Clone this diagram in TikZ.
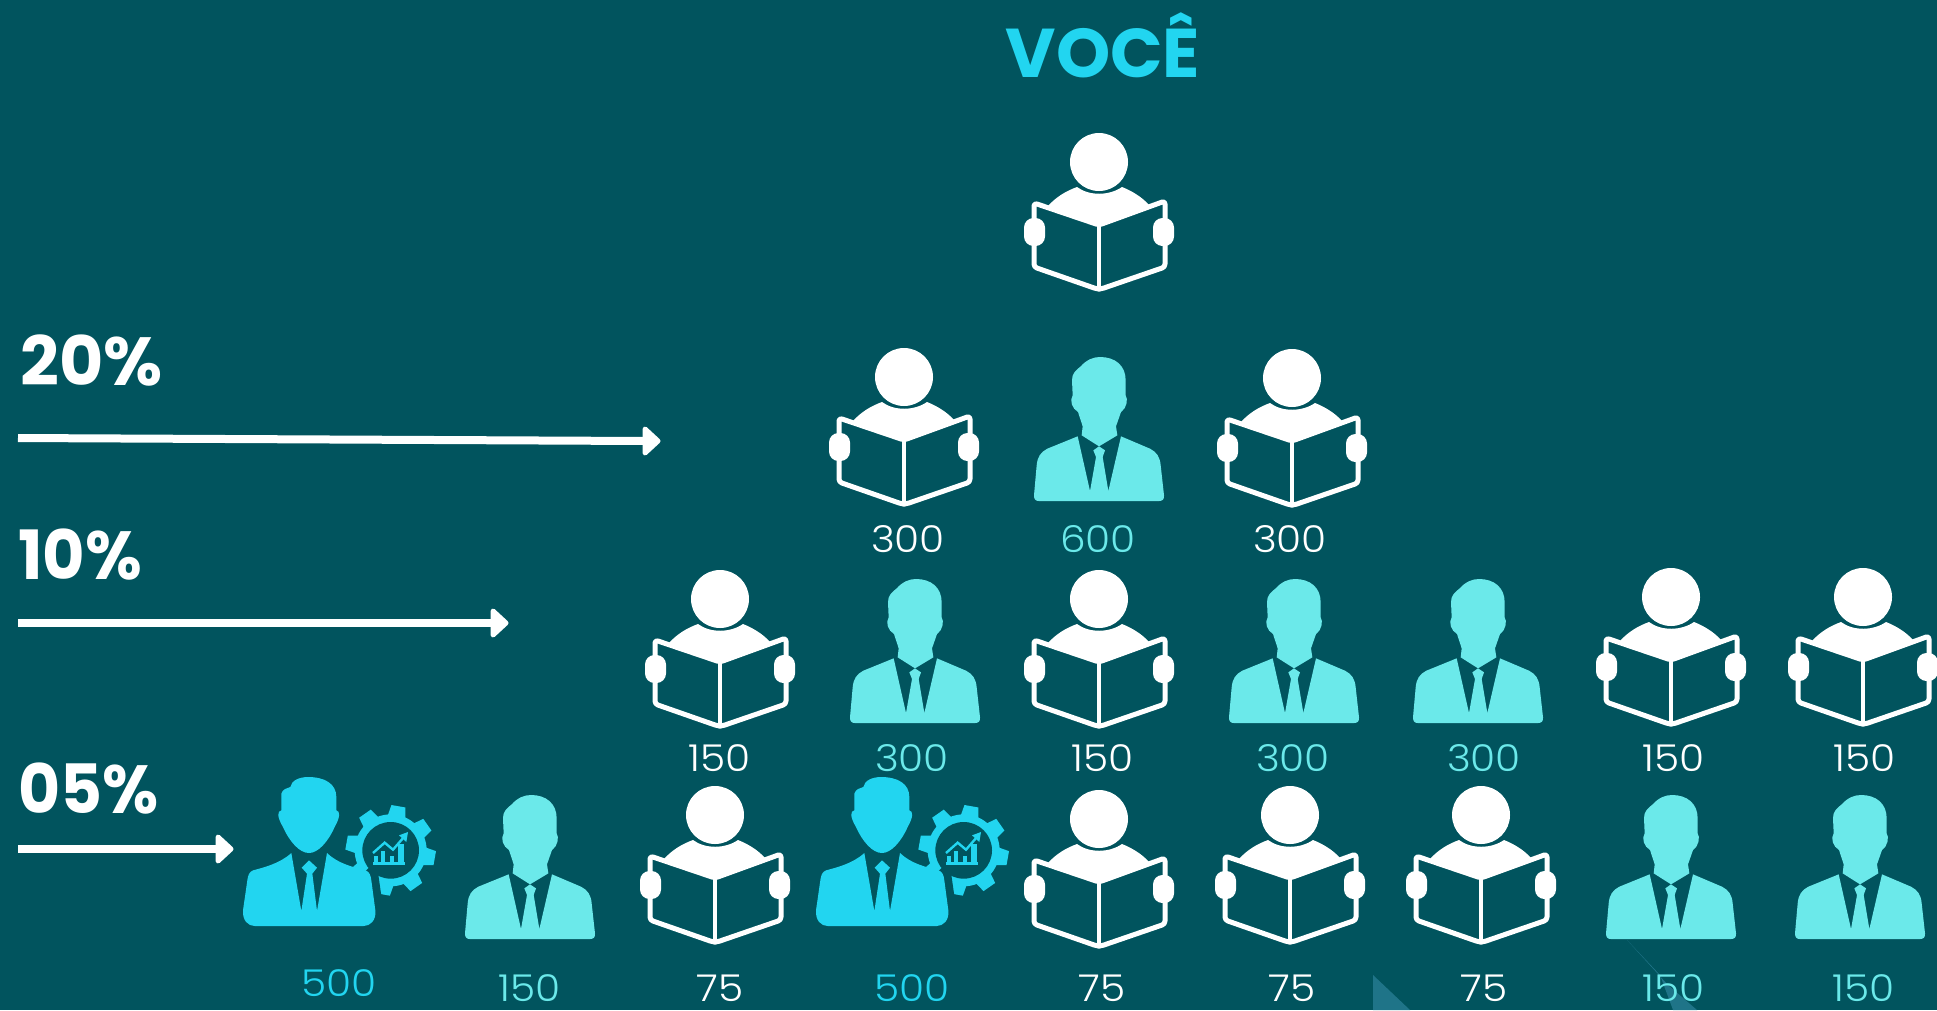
\documentclass[tikz,border=0pt]{standalone}
\usepackage{fontspec}
\setmainfont{Poppins}
\newfontfamily\numfont{Poppins Light}
\usetikzlibrary{arrows.meta}
\definecolor{bgc}{HTML}{01545E}
\definecolor{cyanc}{HTML}{22D5F0}
\definecolor{tealc}{HTML}{6BE9EA}
\definecolor{decoc}{HTML}{1F7488}
\tikzset{
  lab/.style={font=\numfont\fontsize{37}{37}\selectfont,anchor=base,inner sep=0pt,xscale=1.1},
  pct/.style={font=\bfseries\fontsize{68}{68}\selectfont,text=white,anchor=base west,inner sep=0pt},
  flow/.style={draw=white,line width=8pt},
  tip/.style={fill=white,draw=white,line width=5pt,line join=round},
  reader/.pic={
    \fill[white] (0,0) circle (29);
    \fill[white] (-51,44) .. controls (-43,35) and (-33,29) .. (-22,25)
       .. controls (-10,34) and (10,34) .. (23,25)
       .. controls (33,29) and (43,35) .. (50,43) -- (0,62) -- cycle;
    \draw[white,line width=5pt,line join=round,rounded corners=3pt]
       (-65,41) -- (0,63) -- (66,39) -- (66,105) -- (2,127) -- (-2,127) -- (-65,105) -- cycle;
    \draw[white,line width=4.4pt] (0,62) -- (0,127);
    \fill[white,rounded corners=9.5pt] (-75,56) rectangle (-54,84);
    \fill[white,rounded corners=9.5pt] (54,56) rectangle (75,84);
  },
  suit/.pic={
    \begin{scope}[scale=1/3,shift={(-267,-482)}]
    \fill[tealc] (212,78) .. controls (230,58) and (250,50) .. (270,50)
      .. controls (315,50) and (347,75) .. (347,120) -- (347,165)
      .. controls (355,175) and (350,205) .. (333,215)
      -- (318,258) -- (322,285) -- (267,318) -- (215,285) -- (218,258) -- (204,215)
      .. controls (186,205) and (178,180) .. (188,165) -- (186,120)
      .. controls (186,100) and (195,92) .. (212,78) -- cycle;
    \fill[tealc] (203,288) -- (112,325) .. controls (92,335) and (82,350) .. (80,375)
      -- (72,465) .. controls (72,476) and (76,482) .. (86,482) -- (448,482)
      .. controls (458,482) and (463,476) .. (462,465)
      -- (452,375) .. controls (450,350) and (440,335) .. (420,325)
      -- (333,288) -- (295,452) -- (278,350) -- (285,330) -- (267,318) -- (250,330)
      -- (258,350) -- (240,452) -- cycle;
    \end{scope}
  },
  boss/.pic={
    \begin{scope}[scale=1/3,shift={(-268,-497)}]
    \fill[cyanc] (513,270) circle (108);
    \foreach \a in {80,35,-10,-55,-100,-145,170,125}{
      \begin{scope}[shift={(513,270)}]
      \fill[cyanc] ({-\a-15}:104) -- ({-\a-9}:136) -- ({-\a+9}:136) -- ({-\a+15}:104) -- cycle;
      \end{scope}
    }
    \fill[bgc] (513,270) circle (85);
    \fill[cyanc] (460,305) rectangle (555,315);
    \fill[cyanc] (462,305) rectangle (475,287);
    \fill[cyanc] (485,305) rectangle (497,272);
    \fill[cyanc] (510,305) rectangle (522,287);
    \fill[cyanc] (535,305) rectangle (553,252);
    \draw[cyanc,line width=2.4pt] (460,278) -- (495,247) -- (520,268) -- (553,230);
    \fill[cyanc] (565,215) -- (560,245) -- (538,225) -- cycle;
    \draw[bgc,line width=14pt] (440,330) -- (455,345) -- (470,450) -- (440,497);
    \fill[cyanc] (185,100) .. controls (190,85) and (200,85) .. (212,80)
      .. controls (215,60) and (240,50) .. (265,50)
      .. controls (315,50) and (350,70) .. (350,110) -- (350,150)
      .. controls (362,152) and (362,170) .. (345,200)
      .. controls (325,245) and (295,278) .. (268,278)
      .. controls (240,278) and (210,245) .. (190,200)
      .. controls (172,170) and (172,152) .. (185,150) -- cycle;
    \fill[cyanc] (215,278) .. controls (180,310) and (130,322) .. (100,330)
      .. controls (88,335) and (85,345) .. (83,360) -- (70,450)
      .. controls (68,480) and (85,497) .. (105,497) -- (432,497)
      .. controls (452,497) and (470,480) .. (467,450) -- (455,360)
      .. controls (453,345) and (450,335) .. (438,330)
      .. controls (400,320) and (355,310) .. (322,278)
      -- (292,452) -- (278,340) -- (292,322) -- (268,300) -- (246,322)
      -- (262,340) -- (245,452) -- cycle;
    \end{scope}
  }
}
\begin{document}
\begin{tikzpicture}[x=1pt,y=-1pt]
\useasboundingbox (0,0) rectangle (1937,1010);
\fill[bgc] (0,0) rectangle (1937,1010);
% background fragments
\fill[decoc] (1373,975) -- (1410,1010) -- (1373,1010) -- cycle;
\fill[decoc] (1627,940) -- (1668,985) -- (1697,1010) -- (1673,1010) -- (1660,975) -- cycle;
% title
\node[font=\bfseries\fontsize{69}{69}\selectfont,text=cyanc,anchor=base,inner sep=0pt] (title) at (1103,77) {VOCÊ};
% percentages and arrows
\node[pct] (p20) at (20,385) {20\%};
\node[pct,xscale=.96] (p10) at (18,579) {10\%};
\node[pct,xscale=.95] (p05) at (18,813) {05\%};
\coordinate (a1s) at (18,438); \coordinate (a1e) at (645,441);
\coordinate (a2s) at (18,623); \coordinate (a2e) at (493,623);
\coordinate (a3s) at (18,849); \coordinate (a3e) at (218,849);
\draw[flow] (a1s) -- (a1e);
\draw[flow] (a2s) -- (a2e);
\draw[flow] (a3s) -- (a3e);
\foreach \e in {a1e,a2e,a3e}{
  \path[tip] ([shift={(0,-12)}]\e) -- ([shift={(13,0)}]\e) -- ([shift={(0,12)}]\e) -- cycle;
}
% readers
\foreach \x/\y in {1099/162,904/377,1292/378,720/599,1099/599,1671/597,1863/597,715/815,1099/819,1290/815,1481/815}{
  \pic at (\x,\y) {reader};
}
% suits
\foreach \x/\y in {1099/501,915/723,1294/723,1478/723,530/939,1671/939,1860/939}{
  \pic at (\x,\y) {suit};
}
% bosses
\pic at (309,926) {boss};
\pic at (882,926) {boss};
% labels
\node[lab,text=white] (l1) at (908,552) {300};
\node[lab,text=tealc] (l2) at (1098,552) {600};
\node[lab,text=white] (l3) at (1290,552) {300};
\node[lab,text=white] (m1) at (720,771) {150};
\node[lab,text=tealc] (m2) at (912,771) {300};
\node[lab,text=white] (m3) at (1103,771) {150};
\node[lab,text=tealc] (m4) at (1293,771) {300};
\node[lab,text=tealc] (m5) at (1484,771) {300};
\node[lab,text=white] (m6) at (1674,771) {150};
\node[lab,text=white] (m7) at (1865,771) {150};
\node[lab,text=cyanc] (b1) at (339,996) {500};
\node[lab,text=tealc] (b2) at (530,1001) {150};
\node[lab,text=white] (b3) at (720,1001) {75};
\node[lab,text=cyanc] (b4) at (912,1001) {500};
\node[lab,text=white] (b5) at (1102,1001) {75};
\node[lab,text=white] (b6) at (1292,1001) {75};
\node[lab,text=white] (b7) at (1484,1001) {75};
\node[lab,text=tealc] (b8) at (1674,1001) {150};
\node[lab,text=tealc] (b9) at (1864,1001) {150};
\end{tikzpicture}
\end{document}
